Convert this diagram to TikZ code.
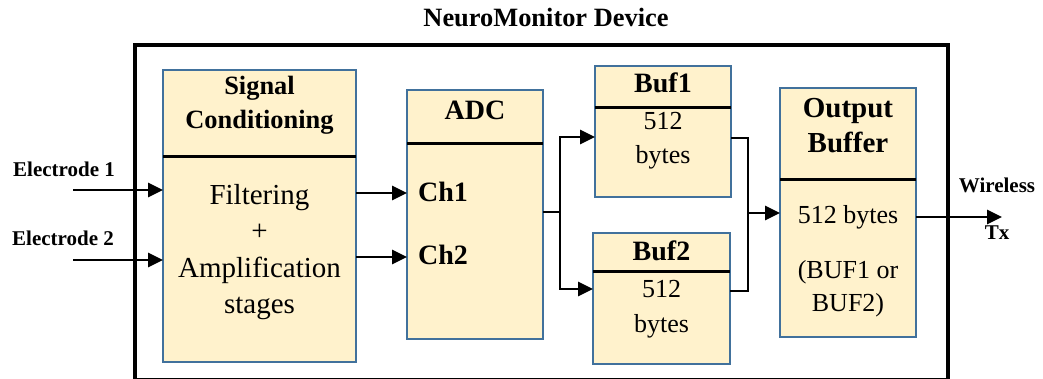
\documentclass[tikz,border=0pt]{standalone}
\usepackage{fontspec}
\setmainfont{Liberation Serif}
\usetikzlibrary{arrows.meta,positioning}

\definecolor{boxfill}{HTML}{FFF2CC}
\definecolor{boxline}{HTML}{41719C}

\begin{document}
\begin{tikzpicture}[
    x=1pt, y=-1pt,
    hd/.style={draw=boxline, fill=boxfill, line width=2pt, inner sep=0pt, outer sep=0pt},
    bd/.style={hd, below=0pt of #1},
    hdtext/.style={font=\fontsize{28}{34}\selectfont\bfseries, align=center, inner sep=0pt},
    bdtext/.style={font=\fontsize{26}{34}\selectfont, align=center, inner sep=0pt},
    tag/.style={font=\fontsize{21}{24}\selectfont\bfseries, inner sep=0pt},
    divider/.style={line width=3pt},
    wire/.style={line width=2.7pt},
    arrow/.style={-{Triangle[length=15pt,width=14pt]}, line width=2.7pt}
]
\useasboundingbox (0,0) rectangle (1043,379);

% Device frame
\node[draw, line width=4pt, minimum width=813pt, minimum height=335pt, inner sep=0pt] (dev) at (541.5,212.5) {};
\node[tag, font=\fontsize{26.4}{30}\selectfont\bfseries] (devt) at (546,18) {NeuroMonitor Device};

% Signal conditioning
\node[hd, minimum width=193pt, minimum height=87pt] (sch) at (259.5,113.5) {};
\node[bd=sch, minimum width=193pt, minimum height=205pt] (scb) {};
\draw[divider] (sch.south west) -- (sch.south east);
\node[hdtext, font=\fontsize{26.4}{34}\selectfont\bfseries] (sct) at (259.5,105) {Signal\\Conditioning};
\node[bdtext, font=\fontsize{29}{36.5}\selectfont] (scx) at (259.5,252) {Filtering\\+\\Amplification\\stages};

% ADC
\node[hd, minimum width=136pt, minimum height=54pt] (adch) at (475,117) {};
\node[bd=adch, minimum width=136pt, minimum height=195pt] (adcb) {};
\draw[divider] (adch.south west) -- (adch.south east);
\node[hdtext] (adct) at (475,110) {ADC};
\node[hdtext, anchor=west] (ch1) at (418,192) {Ch1};
\node[hdtext, anchor=west] (ch2) at (418,255) {Ch2};

% Buffers
\node[hd, minimum width=136pt, minimum height=42pt] (b1h) at (663,87) {};
\node[bd=b1h, minimum width=136pt, minimum height=89pt] (b1b) {};
\draw[divider] (b1h.south west) -- (b1h.south east);
\node[hdtext] (b1t) at (663,83) {Buf1};
\node[bdtext] (b1x) at (663,141) {512\\bytes};

\node[hd, minimum width=137pt, minimum height=38pt] (b2h) at (661.5,252) {};
\node[bd=b2h, minimum width=137pt, minimum height=93pt] (b2b) {};
\draw[divider] (b2h.south west) -- (b2h.south east);
\node[hdtext] (b2t) at (661.5,251) {Buf2};
\node[bdtext, font=\fontsize{26}{35}\selectfont] (b2x) at (661.5,309.5) {512\\bytes};

% Output buffer
\node[hd, minimum width=136pt, minimum height=92pt] (outh) at (848,134) {};
\node[bd=outh, minimum width=136pt, minimum height=157pt] (outb) {};
\draw[divider] (outh.south west) -- (outh.south east);
\node[hdtext, font=\fontsize{29}{35}\selectfont\bfseries] (outt) at (848,125.5) {Output\\Buffer};
\node[bdtext, font=\fontsize{26}{33}\selectfont] (outx) at (848,261) {512 bytes\\[22pt](BUF1 or\\BUF2)};

% Inputs
\node[tag] (e1) at (64,169) {Electrode 1};
\node[tag] (e2) at (63,238) {Electrode 2};
\coordinate (in1) at (73,190);
\coordinate (in2) at (73,260);
\draw[arrow] (in1) -- (scb.west |- in1);
\draw[arrow] (in2) -- (scb.west |- in2);

% Conditioning to ADC
\draw[arrow] (scb.east |- 0,193) -- (adcb.west |- 0,193);
\draw[arrow] (scb.east |- 0,257) -- (adcb.west |- 0,257);

% ADC to buffers
\coordinate (jm) at (560,212);
\draw[wire] (adcb.east |- jm) -- (jm);
\draw[arrow] (jm) |- (b1b.west |- 0,137);
\draw[arrow] (jm) |- (b2b.west |- 0,289);

% Buffers to output
\coordinate (jo) at (748,213);
\draw[wire] (b1b.east |- 0,138) -| (jo);
\draw[wire] (b2b.east |- 0,291) -| (jo);
\draw[arrow] (jo) -- (outb.west |- jo);

% Wireless out
\coordinate (tx) at (1002,217);
\draw[arrow] (outb.east |- tx) -- (tx);
\node[tag] (wl) at (997,185) {Wireless};
\node[tag] (txl) at (997,233) {Tx};

\end{tikzpicture}
\end{document}
